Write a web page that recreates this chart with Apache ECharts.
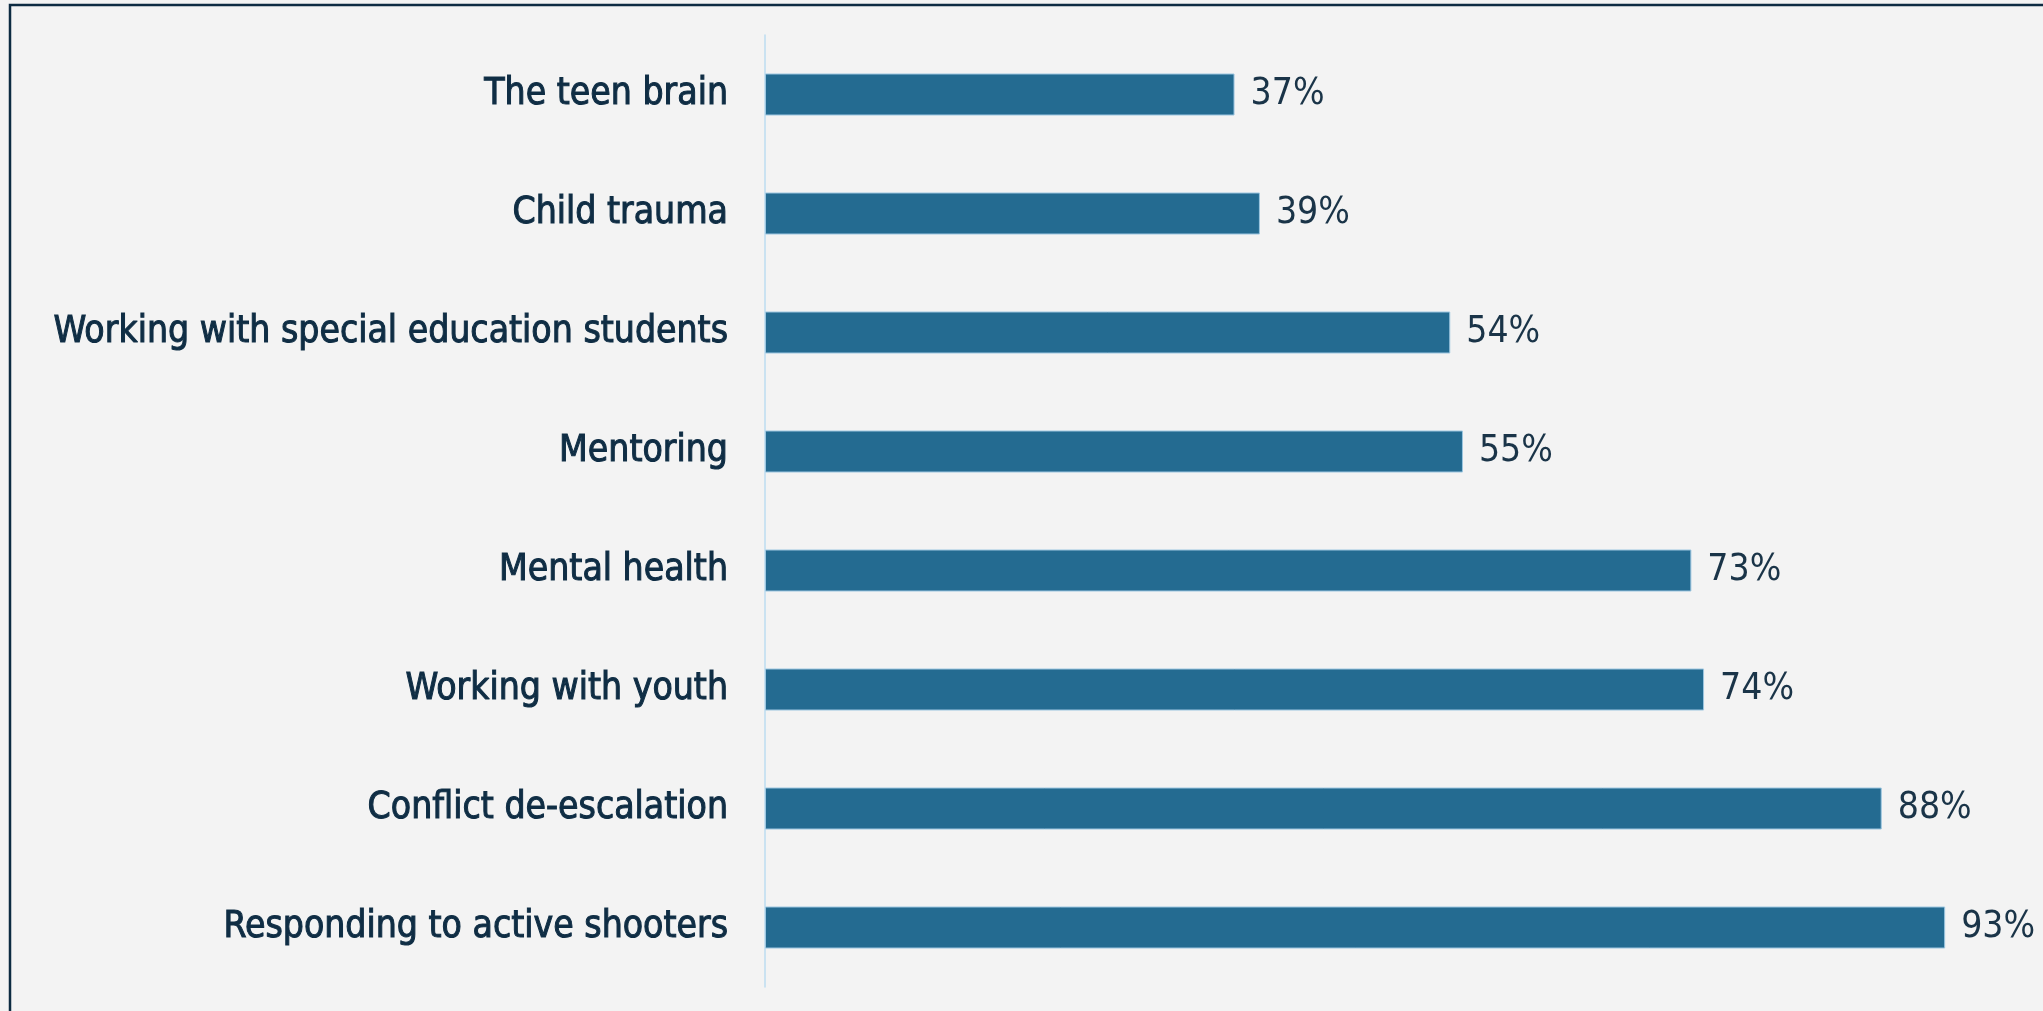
<!DOCTYPE html>
<html>
<head>
<meta charset="utf-8">
<script src="https://cdn.jsdelivr.net/npm/echarts@6/dist/echarts.min.js"></script>
<style>
html,body{margin:0;padding:0;background:#f3f3f3;}
#chart{width:2043px;height:1011px;}
</style>
</head>
<body>
<div id="chart"></div>
<script>
const categories = ["The teen brain","Child trauma","Working with special education students","Mentoring","Mental health","Working with youth","Conflict de-escalation","Responding to active shooters"];
const values = [37,39,54,55,73,74,88,93];

const FONT = "'Liberation Sans Narrow','DejaVu Sans Condensed','Liberation Sans',sans-serif";
const chart = echarts.init(document.getElementById('chart'));
chart.setOption({
  backgroundColor: '#f3f3f3',
  animation: false,
  graphic: [{
    type: 'rect',
    shape: {x: 10, y: 5, width: 3000, height: 3000},
    style: {fill: 'none', stroke: '#0d2b42', lineWidth: 2.5},
    silent: true
  }],
  grid: {left: 765, right: 9, top: 35, bottom: 24, containLabel: false, outerBoundsMode: 'none'},
  xAxis: {
    type: 'value', min: 0, max: 100, show: false
  },
  yAxis: {
    type: 'category',
    data: categories,
    inverse: true,
    axisLine: {show: true, lineStyle: {color: '#bcdcf0', width: 1.5}},
    axisTick: {show: false},
    axisLabel: {
      margin: 37,
      color: '#0f2d44',
      fontFamily: FONT,
      fontSize: 37,
      fontWeight: 'normal',
      textBorderColor: '#0f2d44',
      textBorderWidth: 1
    }
  },
  series: [{
    type: 'bar',
    data: values,
    barWidth: 42,
    itemStyle: {color: '#246b91', borderColor: '#9cc6e0', borderWidth: 1},
    label: {
      show: true,
      position: 'right',
      distance: 16,
      formatter: '{c}%',
      color: '#1a3448',
      fontFamily: FONT,
      fontSize: 37
    }
  }]
});
</script>
</body>
</html>
